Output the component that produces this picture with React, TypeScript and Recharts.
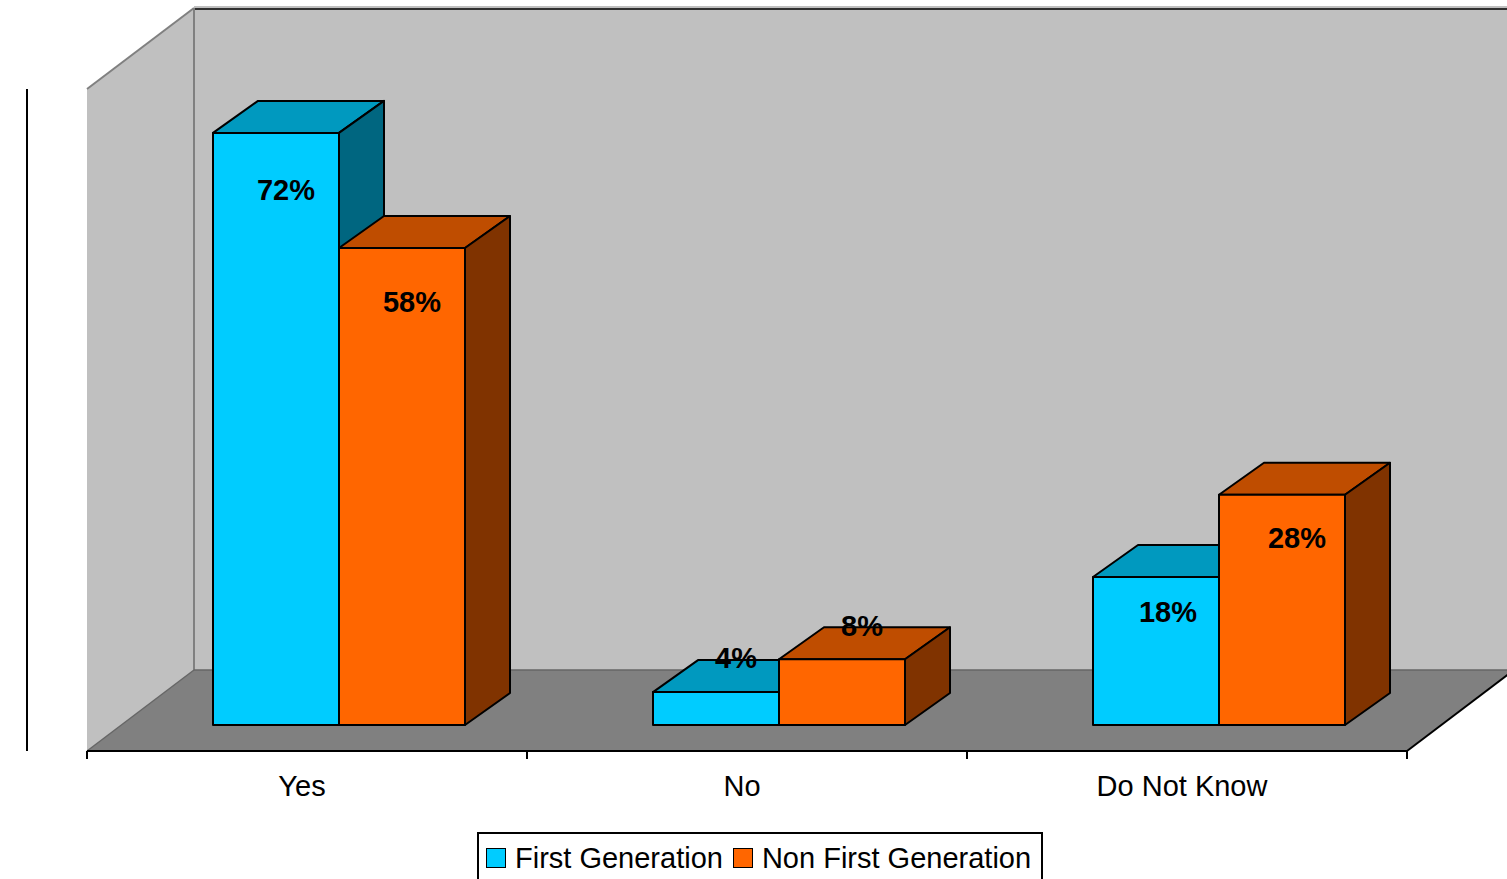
import React from "react";
import { Bar, BarChart, CartesianGrid, LabelList, Legend, XAxis, YAxis } from "recharts";

const categories = ["Yes", "No", "Do Not Know"];
const firstGeneration = [72, 4, 18];
const nonFirstGeneration = [58, 8, 28];
const percentTicks = [0, 10, 20, 30, 40, 50, 60, 70, 80];
const seriesNames = ["First Generation", "Non First Generation"];

// Hand placement of the value labels, as [dx, dy] from the top centre of each bar.
const firstLabelNudge = [[10, 67], [20, -24], [12, 45]];
const nonFirstLabelNudge = [[10, 64], [20, -23], [15, 53]];

const rows = categories.map((category, i) => ({
  category,
  first: firstGeneration[i],
  nonFirst: nonFirstGeneration[i],
}));

const FONT = "'Liberation Sans', Arial, sans-serif";
const CHART_W = 1507;
const CHART_H = 879;
const PLOT = { left: 87, top: 89, right: 1407, bottom: 751 };
const BAND = (PLOT.right - PLOT.left) / categories.length;

// Oblique projection: depth of the box walls and of each bar, and where bars stand on the floor.
const WALL_DX = 107;
const WALL_DY = -81;
const BAR_DX = 45;
const BAR_DY = -32;
const FLOOR_SHIFT_X = 32;
const FLOOR_SHIFT_Y = -26;

const CYAN = { front: "#00CCFF", top: "#0099BF", side: "#006680" };
const ORANGE = { front: "#FF6600", top: "#BF4D00", side: "#803300" };

function pts(list: number[][]) {
  return list.map((p) => p.join(",")).join(" ");
}

function Walls() {
  const { left, top, right, bottom } = PLOT;
  const backL = left + WALL_DX;
  const backR = right + WALL_DX;
  const backTop = top + WALL_DY;
  const backBottom = bottom + WALL_DY;
  return (
    <g>
      <polygon points={pts([[backL, backTop], [backR, backTop], [backR, backBottom], [backL, backBottom]])} fill="#C0C0C0" />
      <polygon points={pts([[left, bottom], [backL, backBottom], [backL, backTop], [left, top]])} fill="#C0C0C0" />
      <polygon points={pts([[left, bottom], [backL, backBottom], [backR, backBottom], [right, bottom]])} fill="#808080" />
      <line x1={backL} y1={backTop - 1} x2={backR} y2={backTop - 1} stroke="#808080" strokeWidth={1} />
      <line x1={backL} y1={backTop + 1} x2={backR} y2={backTop + 1} stroke="#000" strokeWidth={1.5} />
      <line x1={backL} y1={backTop} x2={backL} y2={backBottom} stroke="#808080" strokeWidth={2} />
      <line x1={left} y1={top} x2={backL} y2={backTop} stroke="#808080" strokeWidth={2} />
      <line x1={left} y1={bottom} x2={backL} y2={backBottom} stroke="#666" strokeWidth={1.5} />
      <line x1={backL} y1={backBottom} x2={backR} y2={backBottom} stroke="#666" strokeWidth={1.5} />
      <line x1={right} y1={bottom} x2={backR} y2={backBottom} stroke="#000" strokeWidth={2} />
    </g>
  );
}

// One grid level: a diagonal across the side wall, then a line along the back wall.
function GridLevel(props: any) {
  const { x1, y1, x2 } = props;
  if (Math.abs(y1 - PLOT.bottom) < 1 || Math.abs(y1 - PLOT.top) < 1) return <g />;
  const backX = x1 + WALL_DX;
  const backY = y1 + WALL_DY;
  return (
    <polyline
      points={pts([[x1, y1], [backX, backY], [x2 + WALL_DX, backY]])}
      fill="none"
      stroke="#000"
      strokeWidth={2}
    />
  );
}

function boxShape(colors: { front: string; top: string; side: string }) {
  return function BoxBar(props: any) {
    const x = props.x + FLOOR_SHIFT_X;
    const y = props.y + FLOOR_SHIFT_Y;
    const w = props.width;
    const h = props.height;
    return (
      <g stroke="#000" strokeWidth={2} strokeLinejoin="round">
        <polygon points={pts([[x, y], [x + BAR_DX, y + BAR_DY], [x + w + BAR_DX, y + BAR_DY], [x + w, y]])} fill={colors.top} />
        <polygon points={pts([[x + w, y], [x + w + BAR_DX, y + BAR_DY], [x + w + BAR_DX, y + h + BAR_DY], [x + w, y + h]])} fill={colors.side} />
        <rect x={x} y={y} width={w} height={h} fill={colors.front} />
      </g>
    );
  };
}

function valueLabel(nudge: number[][]) {
  return function ValueLabel(props: any) {
    const { x, y, width, value, index } = props;
    return (
      <text
        x={x + width / 2 + FLOOR_SHIFT_X + nudge[index][0]}
        y={y + FLOOR_SHIFT_Y + nudge[index][1]}
        textAnchor="middle"
        fontFamily={FONT}
        fontSize={29}
        fontWeight={700}
        fill="#000"
      >
        {value}%
      </text>
    );
  };
}

function CategoryTick(props: any) {
  const { x, index, payload } = props;
  const tickY = PLOT.bottom;
  const boundary = x - BAND / 2;
  return (
    <g>
      <line x1={boundary} y1={tickY} x2={boundary} y2={tickY + 8} stroke="#000" strokeWidth={2} />
      {index === categories.length - 1 && (
        <line x1={x + BAND / 2} y1={tickY} x2={x + BAND / 2} y2={tickY + 8} stroke="#000" strokeWidth={2} />
      )}
      <text x={x - 5} y={tickY + 45} textAnchor="middle" fontFamily={FONT} fontSize={29} fill="#000">
        {payload.value}
      </text>
    </g>
  );
}

function LegendBox() {
  const item = (name: string, color: string) => (
    <span key={name} style={{ display: "inline-flex", alignItems: "center" }}>
      <span
        style={{
          display: "inline-block",
          width: 18,
          height: 18,
          background: color,
          border: "1.5px solid #000",
          marginRight: 9,
        }}
      />
      <span>{name}</span>
    </span>
  );
  return (
    <div
      style={{
        position: "absolute",
        left: 477,
        top: 832,
        width: 566,
        height: 60,
        boxSizing: "border-box",
        border: "2px solid #000",
        background: "#fff",
        paddingLeft: 7,
        paddingTop: 6,
        display: "flex",
        gap: 10,
        alignItems: "flex-start",
        fontFamily: FONT,
        fontSize: 29,
        lineHeight: "36px",
        color: "#000",
        whiteSpace: "nowrap",
      }}
    >
      {item(seriesNames[0], CYAN.front)}
      {item(seriesNames[1], ORANGE.front)}
    </div>
  );
}

export default function App() {
  return (
    <div style={{ position: "absolute", left: 0, top: 0, width: CHART_W, height: CHART_H, overflow: "hidden", background: "#fff" }}>
      <BarChart
        width={CHART_W}
        height={CHART_H}
        data={rows}
        margin={{ top: PLOT.top, right: CHART_W - PLOT.right, bottom: 0, left: 0 }}
        barSize={126}
        barGap={0}
      >
        <Walls />
        <CartesianGrid yAxisId="percent" vertical={false} horizontal={(p: any) => <GridLevel key={p.key ?? p.y1} {...p} />} />
        <XAxis
          dataKey="category"
          height={CHART_H - PLOT.bottom}
          axisLine={{ stroke: "#000", strokeWidth: 2 }}
          tickLine={false}
          tick={CategoryTick}
          interval={0}
        />
        <YAxis
          yAxisId="percent"
          width={PLOT.left}
          domain={[0, 80]}
          ticks={percentTicks}
          interval={0}
          tickFormatter={(v: number) => `${v}%`}
          axisLine={{ stroke: "#000", strokeWidth: 2 }}
          tickLine={{ stroke: "#000", strokeWidth: 2 }}
          tickSize={9}
          tickMargin={6}
          tick={{ fill: "#000", fontFamily: FONT, fontSize: 29 }}
        />
        {/* Bars stand further back than the front plane, so their scale is a touch shorter. */}
        <YAxis yAxisId="bars" hide domain={[0, 80.5]} />
        <Bar yAxisId="bars" dataKey="first" name={seriesNames[0]} fill={CYAN.front} shape={boxShape(CYAN)} isAnimationActive={false}>
          <LabelList dataKey="first" content={valueLabel(firstLabelNudge)} />
        </Bar>
        <Bar yAxisId="bars" dataKey="nonFirst" name={seriesNames[1]} fill={ORANGE.front} shape={boxShape(ORANGE)} isAnimationActive={false}>
          <LabelList dataKey="nonFirst" content={valueLabel(nonFirstLabelNudge)} />
        </Bar>
        <Legend content={LegendBox} height={0} wrapperStyle={{ left: 0, top: 0, width: 0, height: 0 }} />
      </BarChart>
    </div>
  );
}
